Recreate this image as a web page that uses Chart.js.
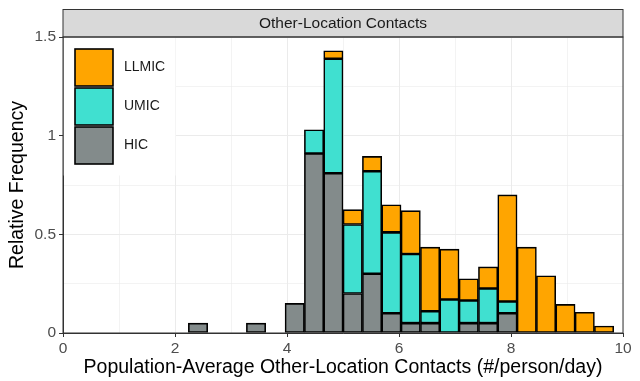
<!DOCTYPE html>
<html>
<head>
<meta charset="utf-8">
<script src="https://cdn.jsdelivr.net/npm/chart.js@4"></script>
<style>
  body { margin: 0; background: #fff; }
  #wrap { width: 640px; height: 381px; }
</style>
</head>
<body>
<div id="wrap"><canvas id="chart_hist" width="640" height="381"></canvas></div>
<script>
// bin centres of the histogram (#/person/day)
const binCenters = [2.411, 2.756, 3.102, 3.447, 3.792, 4.138, 4.483, 4.828, 5.173, 5.519, 5.864,
                    6.209, 6.555, 6.900, 7.245, 7.591, 7.936, 8.281, 8.626, 8.972, 9.317, 9.662];
// relative frequency per income group, stacked HIC -> UMIC -> LLMIC
const hic   = [0.05, 0, 0, 0.05, 0, 0.15, 0.91, 0.81, 0.20, 0.30, 0.10,
               0.05, 0.05, 0, 0.05, 0.05, 0.10, 0, 0, 0, 0, 0];
const umic  = [0, 0, 0, 0, 0, 0, 0.12, 0.58, 0.35, 0.52, 0.41,
               0.35, 0.06, 0.17, 0.115, 0.175, 0.06, 0, 0, 0, 0, 0];
const llmic = [0, 0, 0, 0, 0, 0, 0, 0.04, 0.075, 0.075, 0.14,
               0.22, 0.325, 0.255, 0.11, 0.11, 0.54, 0.435, 0.29, 0.145, 0.105, 0.035];
const groupNames = ['LLMIC', 'UMIC', 'HIC'];
const xTicks = [0, 2, 4, 6, 8, 10];
const yTicks = [0, 0.5, 1, 1.5];
const stripTitle = 'Other-Location Contacts';

const FONT = '"Liberation Sans", Arial, sans-serif';

function toPoints(values) {
    return values.map((v, i) => ({x: binCenters[i], y: v}));
}

// facet strip + panel border, like ggplot's theme_bw
const panelPlugin = {
    id: 'panel',
    afterDraw(chart) {
        const {ctx, chartArea: a} = chart;
        ctx.save();
        ctx.fillStyle = '#d9d9d9';
        ctx.fillRect(a.left, 9.5, a.right - a.left, a.top - 9.5);
        ctx.strokeStyle = '#333333';
        ctx.lineWidth = 1;
        ctx.strokeRect(a.left, 9.5, a.right - a.left, a.top - 9.5);
        ctx.fillStyle = '#1a1a1a';
        ctx.font = '15.5px ' + FONT;
        ctx.textAlign = 'center';
        ctx.textBaseline = 'middle';
        ctx.fillText(stripTitle, (a.left + a.right) / 2, (9.5 + a.top) / 2 + 0.5);
        ctx.strokeRect(a.left, a.top, a.right - a.left, a.bottom - a.top);
        ctx.restore();
    }
};

// legend sits inside the panel, top left
const insideLegend = {
    id: 'insideLegend',
    afterDatasetsDraw(chart) {
        const {ctx, chartArea: a} = chart;
        ctx.save();
        ctx.fillStyle = '#ffffff';
        ctx.fillRect(a.left + 0.5, a.top + 0.5, 112, 138);
        const order = [2, 1, 0]; // LLMIC, UMIC, HIC
        order.forEach((di, k) => {
            const ds = chart.data.datasets[di];
            const y = a.top + 12 + k * 39;
            ctx.fillStyle = ds.backgroundColor;
            ctx.fillRect(a.left + 12, y, 38, 37);
            ctx.strokeStyle = '#000';
            ctx.lineWidth = 1.6;
            ctx.strokeRect(a.left + 12, y, 38, 37);
            ctx.fillStyle = '#1a1a1a';
            ctx.font = '14px ' + FONT;
            ctx.textAlign = 'left';
            ctx.textBaseline = 'middle';
            ctx.fillText(ds.label, a.left + 61, y + 18.5);
        });
        ctx.restore();
    }
};

const ctx = document.getElementById('chart_hist').getContext('2d');
const histChart = new Chart(ctx, {
    type: 'bar',
    data: {
        datasets: [
            {label: groupNames[2], data: toPoints(hic),   backgroundColor: '#838B8B'},
            {label: groupNames[1], data: toPoints(umic),  backgroundColor: '#40E0D0'},
            {label: groupNames[0], data: toPoints(llmic), backgroundColor: '#FFA500'}
        ].map(d => Object.assign(d, {
            borderColor: '#000000',
            borderWidth: 1.6,
            borderSkipped: false,
            barPercentage: 1,
            categoryPercentage: 1
        }))
    },
    options: {
        responsive: false,
        animation: false,
        layout: {padding: {top: 37, right: 17, left: 0, bottom: 0}},
        plugins: {legend: {display: false}, tooltip: {enabled: false}},
        scales: {
            x: {
                type: 'linear',
                stacked: true,
                offset: false,
                min: 0,
                max: 10,
                afterFit: s => { s.height = 48; },
                afterBuildTicks: s => { s.ticks = [0,1,2,3,4,5,6,7,8,9,10].map(v => ({value: v})); },
                grid: {
                    offset: false,
                    color: '#ebebeb',
                    lineWidth: c => (xTicks.includes(c.tick.value) ? 1 : 0.6),
                    tickColor: c => (xTicks.includes(c.tick.value) ? '#333333' : 'rgba(0,0,0,0)'),
                    tickLength: 4
                },
                border: {display: true, color: '#333333', width: 1},
                ticks: {
                    autoSkip: false,
                    maxRotation: 0,
                    padding: 2,
                    color: '#4d4d4d',
                    font: {family: FONT, size: 15.5},
                    callback: v => (xTicks.includes(v) ? String(v) : '')
                },
                title: {
                    display: true,
                    text: 'Population-Average Other-Location Contacts (#/person/day)',
                    color: '#000000',
                    font: {family: FONT, size: 19.5},
                    padding: {top: 0, bottom: 2}
                }
            },
            y: {
                stacked: true,
                min: 0,
                max: 1.5,
                afterFit: s => { s.width = 63; },
                afterBuildTicks: s => { s.ticks = [0, 0.25, 0.5, 0.75, 1, 1.25, 1.5].map(v => ({value: v})); },
                grid: {
                    color: '#ebebeb',
                    lineWidth: c => (yTicks.includes(c.tick.value) ? 1 : 0.6),
                    tickColor: c => (yTicks.includes(c.tick.value) ? '#333333' : 'rgba(0,0,0,0)'),
                    tickLength: 4
                },
                border: {display: true, color: '#333333', width: 1},
                ticks: {
                    autoSkip: false,
                    padding: 3,
                    color: '#4d4d4d',
                    font: {family: FONT, size: 15.5},
                    callback: v => (yTicks.includes(v) ? String(v) : '')
                },
                title: {
                    display: true,
                    text: 'Relative Frequency',
                    color: '#000000',
                    font: {family: FONT, size: 19.5},
                    padding: {top: 6, bottom: 0}
                }
            }
        }
    },
    plugins: [panelPlugin, insideLegend]
});
</script>
</body>
</html>
